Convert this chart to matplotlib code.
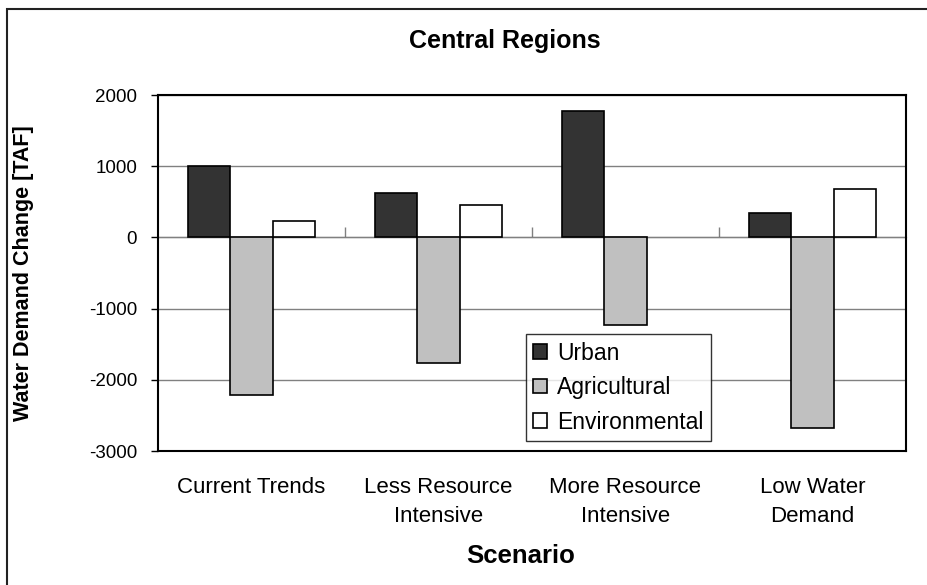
import numpy as np
import matplotlib
matplotlib.use("Agg")
import matplotlib.pyplot as plt
from matplotlib.patches import Rectangle

plt.rcParams['font.family'] = ['Liberation Sans', 'DejaVu Sans']
plt.rcParams['axes.unicode_minus'] = False

# data (no environmental bar for "More Resource")
scenarios = ["Current Trends", "Less Resource\nIntensive",
             "More Resource\nIntensive", "Low Water\nDemand"]
urban = [1000, 620, 1770, 340]
agricultural = [-2220, -1770, -1230, -2670]
environmental = [230, 460, np.nan, 680]
series_names = ["Urban", "Agricultural", "Environmental"]
series_colors = ["#333333", "#c0c0c0", "#ffffff"]
y_ticks = [2000, 1000, 0, -1000, -2000, -3000]

fig = plt.figure(figsize=(9.28, 5.85), dpi=100)
ax = fig.add_axes([158 / 928, 1 - 451 / 585, 748 / 928, 356 / 585])

x = np.arange(len(scenarios))
w = 0.225
for i, (vals, name, col) in enumerate(zip([urban, agricultural, environmental],
                                          series_names, series_colors)):
    ax.bar(x + (i - 1) * w, vals, width=w, color=col, edgecolor="black",
           linewidth=1.2, label=name, zorder=3)

ymin, ymax = -3000, 2000
ax.set_ylim(ymin, ymax)
ax.set_xlim(-0.5, len(scenarios) - 0.5)
ax.set_yticks(y_ticks)
ax.set_yticklabels([str(v) for v in y_ticks], fontsize=13.5)
ax.yaxis.grid(True, color="#808080", linewidth=1.0, zorder=0)
ax.tick_params(axis="y", direction="out", length=5, width=1, pad=10)

ax.set_xticks(x)
ax.set_xticklabels(scenarios, fontsize=16, linespacing=1.45)
ax.tick_params(axis="x", length=0, pad=19)

for s in ax.spines.values():
    s.set_linewidth(1.5)
    s.set_color("black")

# category axis crossing at zero with ticks between groups
zero_pos = (0 - ymin) / (ymax - ymin)
sec = ax.secondary_xaxis(zero_pos)
sec.set_xticks(x[:-1] + 0.5)
sec.set_xticklabels([])
sec.tick_params(axis="x", direction="out", length=7, width=1, color="#808080")
sec.spines["bottom"].set_color("#808080")
sec.spines["bottom"].set_linewidth(1.0)

ax.set_ylabel("Water Demand Change [TAF]", fontsize=15.5, fontweight="bold")
ax.yaxis.set_label_coords(-(158 - 34) / 748, 0.5)
ax.set_xlabel("Scenario", fontsize=18.5, fontweight="bold")
ax.xaxis.set_label_coords((521 - 158) / 748, -(556 - 451) / 356)
ax.xaxis.label.set_va("center")
fig.text(505 / 928, 1 - 41 / 585, "Central Regions", ha="center",
         va="center", fontsize=18, fontweight="bold")

leg = ax.legend(loc="lower left",
                bbox_to_anchor=((526 - 158) / 748, (451 - 441) / 356),
                fontsize=16.5, frameon=True, fancybox=False,
                handlelength=0.61, handleheight=0.61, handletextpad=0.43,
                borderaxespad=0, labelspacing=0.5, borderpad=0.32)
leg.get_frame().set_edgecolor("black")
leg.get_frame().set_linewidth(1.0)

# chart border (only top and left edges visible in the reference)
fig.patches.append(Rectangle((7 / 928, -0.1), 1.2, 1.1 - 9 / 585,
                             transform=fig.transFigure, fill=False,
                             edgecolor="#222222", linewidth=1.5))

fig.savefig("out.png", dpi=100)
